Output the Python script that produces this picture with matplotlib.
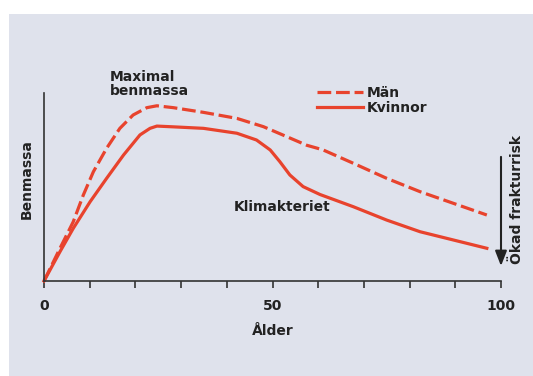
import matplotlib
matplotlib.use("Agg")
import matplotlib.pyplot as plt
from matplotlib.patches import Rectangle

# Ålder (x) and relative benmassa (y)
man_age = [0, 3.5, 6.4, 8.6, 10.8, 13.7, 16.6, 19.5, 22.5, 24.7, 28.3, 34.9, 42.2, 48, 53.1,
           57.5, 61, 67.7, 75, 82.3, 89.6, 96.9]
man_mass = [0, 17.4, 31.5, 45.7, 58.1, 70.6, 81.2, 88.3, 92.2, 93.2, 92.2, 89.7, 86.5, 82.1, 76.8,
            72.2, 69.8, 62.6, 54.6, 47.5, 41.3, 35.1]

kvinna_age = [0, 3.5, 6.4, 10.1, 13.7, 17.4, 21, 23.2, 24.7, 28.3, 34.9, 42.2, 46.5, 49.5, 51.6,
              53.8, 56.7, 60.4, 67.7, 75, 82.3, 89.6, 96.9]
kvinna_mass = [0, 15.6, 28, 42.2, 54.6, 67, 77.7, 81.2, 82.4, 82, 81.2, 78.6, 75, 69.7, 63.5,
               56.4, 50.2, 46, 39.5, 32.4, 26.2, 21.8, 17.4]

xticks = list(range(0, 101, 10))
xtick_labels = ["0", "", "", "", "", "50", "", "", "", "", "100"]

red = "#e8432d"
dark = "#222222"
bg = "#dfe2ec"
font = {"family": "DejaVu Sans", "weight": "bold", "color": dark}

fig = plt.figure(figsize=(5.33, 3.76), dpi=100)
fig.patch.set_facecolor("white")
fig.add_artist(Rectangle((9 / 533, 0), 1, (376 - 14) / 376, transform=fig.transFigure,
                         facecolor=bg, edgecolor="none", zorder=-5))

ax = fig.add_axes([44 / 533, (376 - 281) / 376, (501 - 44) / 533, (281 - 93) / 376])
ax.set_zorder(2)
ax.set_facecolor("none")

ax.plot(man_age, man_mass, color=red, lw=2.3, dashes=(4.3, 1.5), label="Män",
        clip_on=False, solid_joinstyle="round", dash_joinstyle="round")
ax.plot(kvinna_age, kvinna_mass, color=red, lw=2.3, label="Kvinnor",
        clip_on=False, solid_joinstyle="round")

ax.set_xlim(0, 100)
ax.set_ylim(0, 100)
for s in ["top", "right"]:
    ax.spines[s].set_visible(False)
for s in ["left", "bottom"]:
    ax.spines[s].set_color("#333333")
    ax.spines[s].set_linewidth(1.2)
ax.set_yticks([])
ax.set_xticks(xticks)
ax.set_xticklabels(xtick_labels, fontdict=font, fontsize=10)
ax.tick_params(axis="x", length=5, width=1.2, color="#333333", pad=8)

ax.set_xlabel("Ålder", fontdict=font, fontsize=10, labelpad=8)
ax.set_ylabel("Benmassa", fontdict=font, fontsize=10)
ax.yaxis.set_label_coords(-0.022, 0.54)

ax.text(14.4, 97.3, "Maximal\nbenmassa", fontdict=font, fontsize=10,
        ha="left", va="bottom", linespacing=1.0)
ax.text(41.5, 39.5, "Klimakteriet", fontdict=font, fontsize=10, ha="left", va="center")

leg = ax.legend(loc="upper left", bbox_to_anchor=(0.57, 1.106), frameon=False,
                handlelength=3.3, handletextpad=0.3, labelspacing=0.1,
                prop={"family": "DejaVu Sans", "weight": "bold", "size": 10})
for t in leg.get_texts():
    t.set_color(dark)

# arrow for increasing fracture risk
ax.annotate("", xy=(100, 6.5), xytext=(100, 67.5), xycoords="data",
            arrowprops=dict(arrowstyle="-|>,head_length=0.9,head_width=0.35",
                            color="#222222", lw=1.5), annotation_clip=False)
ax.text(103.6, 43.5, "Ökad frakturrisk", fontdict=font, fontsize=10,
        rotation=90, ha="center", va="center", clip_on=False)

fig.savefig("out.png", dpi=100, facecolor=fig.get_facecolor())
